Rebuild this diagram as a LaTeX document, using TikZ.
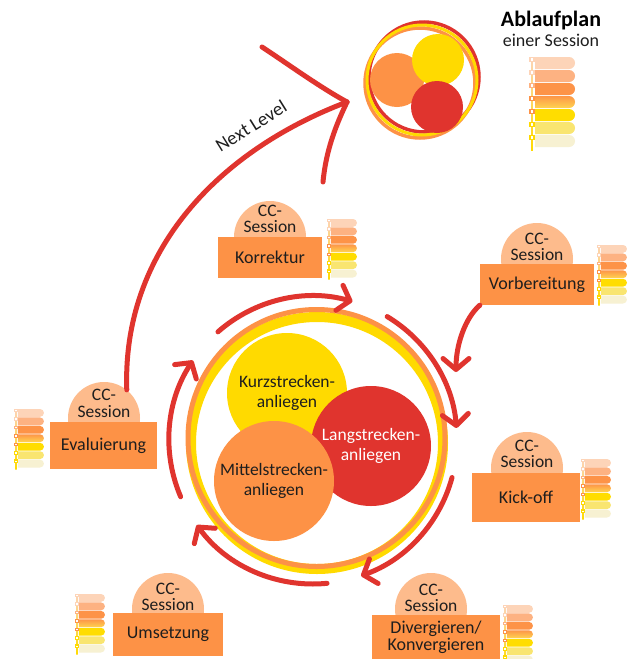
\documentclass[tikz,border=0pt]{standalone}
\usepackage{fontspec}
\setmainfont{Carlito}
\usetikzlibrary{arrows.meta}

\definecolor{flowred}{RGB}{224,52,46}
\definecolor{floworange}{RGB}{253,146,70}
\definecolor{flowyellow}{RGB}{255,218,0}
\definecolor{flowpeach}{RGB}{253,187,140}
\definecolor{inktext}{RGB}{30,30,30}
\definecolor{lad1}{RGB}{253,212,184}
\definecolor{lad2}{RGB}{253,178,130}
\definecolor{lad3}{RGB}{253,147,72}
\definecolor{lad4a}{RGB}{253,150,72}
\definecolor{lad4b}{RGB}{255,212,80}
\definecolor{lad5}{RGB}{255,221,0}
\definecolor{lad6}{RGB}{249,229,112}
\definecolor{lad7}{RGB}{247,241,210}

\tikzset{
  redline/.style={draw=flowred, line width=5pt, line cap=round, line join=round},
  redarrow/.style={redline, -{Straight Barb[length=11pt,width=26pt,round]}},
  ccbubble/.style={circle, fill=flowpeach, minimum size=72pt, inner sep=0pt},
  cclabel/.style={align=center, text=inktext, inner sep=0pt, font=\fontsize{17.5}{16.5}\selectfont},
  taskbox/.style={fill=floworange, text=inktext, align=center, inner sep=0pt, font=\fontsize{18}{17}\selectfont},
  topic/.style={circle, inner sep=0pt, minimum size=120pt, align=center, font=\fontsize{17.5}{20}\selectfont},
  ladder/.pic={
    \shade[top color=lad1, bottom color=flowyellow] (-0.8,0) rectangle (0.8,93);
    \foreach \i/\c in {0/lad1,1/lad2,2/lad3,4/lad5,5/lad6,6/lad7}
      \fill[\c] (3,13*\i) -- (37,13*\i) arc[start angle=-90,end angle=90,radius=6] -- (3,13*\i+12) -- cycle;
    \shade[top color=lad4a, bottom color=lad4b] (3,39) -- (37,39) arc[start angle=-90,end angle=90,radius=6] -- (3,51) -- cycle;
    \foreach \i/\c in {0/lad1,1/lad1,2/lad2,3/lad3,4/lad3,5/flowyellow,6/flowyellow}
      \draw[\c, fill=white, line width=1.1pt] (-2,13*\i+0.5) rectangle (2,13*\i+4.5);
  }
}

\begin{document}
\begin{tikzpicture}[x=1pt,y=-1pt]
\useasboundingbox (0,0) rectangle (637,659);
\fill[white] (0,0) rectangle (637,659);

% title and key
\node[font=\fontsize{22}{22}\selectfont\bfseries, text=black] (title) at (551,21) {Ablaufplan};
\node[font=\fontsize{18}{18}\selectfont, text=inktext] (subtitle) at (551,40) {einer Session};
\pic at (532,57) {ladder};

% session emblem
\draw[flowred, line width=3.5pt] (424,77) circle[radius=55];
\draw[floworange, line width=3.5pt] (420,83) circle[radius=55];
\draw[flowyellow, line width=3pt] (422,80) circle[radius=55];
\fill[floworange] (397,80) circle[radius=27];
\fill[flowyellow] (438,60) circle[radius=26];
\fill[flowred] (437,107) circle[radius=26];

% central ring
\draw[flowyellow, line width=10pt] (317,443) circle[radius=126];
\draw[floworange, line width=5pt] (316.5,438) circle[radius=128.5];

\node[topic, fill=flowyellow, text=inktext] (kurz) at (287,393) {Kurzstrecken-\\anliegen};
\node[topic, fill=flowred, text=white] (lang) at (371,446) {Langstrecken-\\anliegen};
\node[topic, fill=floworange, text=inktext] (mittel) at (274,481) {Mittelstrecken-\\anliegen};

% cycle arrows
\coordinate (ring) at (313,440);
\foreach \a/\b in {-131.3/-74.1, -59/-4.8, 15.1/70.5, 84.4/143.8, 156.8/213.5}
  \draw[redarrow] (ring) ++(\a:144) arc[start angle=\a, end angle=\b, radius=144];

% sessions
\node[ccbubble] (korrcc) at (270,237) {};
\node[ccbubble] (vorbcc) at (537,259) {};
\node[ccbubble] (kickcc) at (527,468) {};
\node[ccbubble] (divcc) at (431,609) {};
\node[ccbubble] (umscc) at (168,609) {};
\node[ccbubble] (evalcc) at (104,418) {};

% next level arrow
\coordinate (nexttip) at (347,102);
\coordinate (nextarmA) at (262,47);
\coordinate (nextarmB) at (323,182);
\draw[redline] (evalcc.51) .. controls (122,250) and (220,150) .. (nexttip);
\draw[redline] (nexttip) .. controls (318,86) and (288,64) .. (nextarmA);
\draw[redline] (nexttip) .. controls (336,125) and (326,150) .. (nextarmB);
\node[rotate=32, font=\fontsize{19}{19}\selectfont, text=inktext] (nextlabel) at (251,126) {Next Level};

\node[taskbox, minimum width=104pt, minimum height=41pt] (korr) at (270,257.5) {Korrektur};
\node[taskbox, minimum width=114pt, minimum height=41pt] (vorb) at (537,284.5) {Vorbereitung};
\node[taskbox, minimum width=108pt, minimum height=49pt] (kick) at (526,497.5) {Kick-off};
\node[taskbox, minimum width=128pt, minimum height=44pt] (div) at (436,637) {Divergieren/\\Konvergieren};
\node[taskbox, minimum width=110pt, minimum height=43pt] (ums) at (168,634) {Umsetzung};
\node[taskbox, minimum width=107pt, minimum height=47pt] (eval) at (103.5,445.5) {Evaluierung};

\node[cclabel] (korrtx) at (270,219) {CC-\\Session};
\node[cclabel] (vorbtx) at (537,247) {CC-\\Session};
\node[cclabel] (kicktx) at (527,454) {CC-\\Session};
\node[cclabel] (divtx) at (431,598) {CC-\\Session};
\node[cclabel] (umstx) at (168,597) {CC-\\Session};
\node[cclabel] (evaltx) at (104,403.5) {CC-\\Session};

% preparation leads into the cycle
\coordinate (vorbtip) at (456,372);
\draw[redarrow] (vorb.south west) .. controls (465,318) and (456,345) .. (vorbtip);

% keys beside the sessions
\begin{scope}
\clip (0,0) rectangle (637,659);
\pic[scale=0.65] at (329,219) {ladder};
\pic[scale=0.65] at (599,245) {ladder};
\pic[scale=0.65] at (583,459) {ladder};
\pic[scale=0.65] at (505,605) {ladder};
\pic[scale=0.65] at (77,594) {ladder};
\pic[scale=0.65] at (16,409) {ladder};
\end{scope}
\end{tikzpicture}
\end{document}
